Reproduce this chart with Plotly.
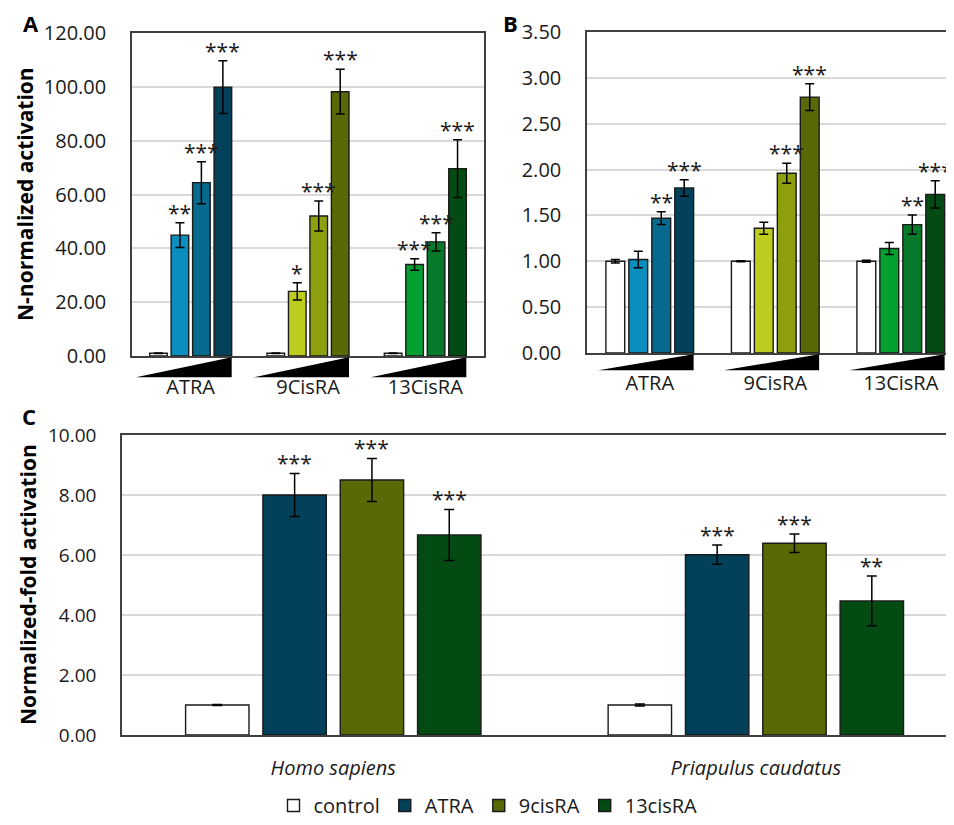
import plotly.graph_objects as go

# ---------------- data ----------------
groups_ab = ["ATRA", "9CisRA", "13CisRA"]

a_vals = [[1.0, 44.9, 64.4, 99.9],
          [1.0, 24.0, 52.0, 98.2],
          [1.0, 34.0, 42.4, 69.6]]
a_errs = [[0.1, 4.6, 7.8, 9.8],
          [0.1, 3.2, 5.6, 8.3],
          [0.1, 2.1, 3.4, 10.7]]
a_stars = [["", "**", "***", "***"],
           ["", "*", "***", "***"],
           ["", "***", "***", "***"]]

b_vals = [[1.0, 1.02, 1.47, 1.80],
          [1.0, 1.36, 1.96, 2.79],
          [1.0, 1.14, 1.40, 1.73]]
b_errs = [[0.02, 0.09, 0.07, 0.09],
          [0.005, 0.065, 0.11, 0.145],
          [0.01, 0.065, 0.105, 0.149]]
b_stars = [["", "", "**", "***"],
           ["", "", "***", "***"],
           ["", "", "**", "***"]]

species = ["Homo sapiens", "Priapulus caudatus"]
treatments = ["control", "ATRA", "9cisRA", "13cisRA"]
c_control = [1.0, 1.0]
c_atra = [8.0, 6.01]
c_9cis = [8.5, 6.39]
c_13cis = [6.67, 4.47]
c_control_err = [0.02, 0.03]
c_atra_err = [0.72, 0.32]
c_9cis_err = [0.72, 0.31]
c_13cis_err = [0.85, 0.83]
c_control_stars = ["", ""]
c_atra_stars = ["***", "***"]
c_9cis_stars = ["***", "***"]
c_13cis_stars = ["***", "**"]

# ---------------- style ----------------
dose_colors = [["#FFFFFF", "#0A8EBD", "#066A8E", "#03405A"],
               ["#FFFFFF", "#BDCC1E", "#8E9F0E", "#5A6905"],
               ["#FFFFFF", "#05A032", "#067A2A", "#034B12"]]
c_colors = ["#FFFFFF", "#03405A", "#5A6905", "#034B12"]

FONT = "Open Sans"
TXT = "#1a1a1a"
GRID = "#D9D9D9"
AXC = "#404040"
SLOT = 0.183
BARW = SLOT * 0.82

fig = go.Figure()


def offsets():
    return [(-1.5 + i) * SLOT for i in range(4)]


annotations = []
shapes = []
STAR_FONT = dict(family=FONT, size=21, color=TXT)


def add_dose_panel(vals, errs, stars, xa, ya, tri_left, tri_h):
    xs, ys, es, cols = [], [], [], []
    for g, (gv, ge) in enumerate(zip(vals, errs)):
        for i, off in enumerate(offsets()):
            xs.append(g + off)
            ys.append(gv[i])
            es.append(ge[i])
            cols.append(dose_colors[g][i])
            if stars[g][i]:
                annotations.append(dict(
                    x=g + off, y=gv[i] + ge[i], xref=xa, yref=ya,
                    text=stars[g][i], showarrow=False, xanchor="center", yanchor="bottom",
                    yshift=-6, font=STAR_FONT))
        right = offsets()[3] + BARW / 2
        shapes.append(dict(
            type="path", xref=xa, yref=ya + " domain",
            path=f"M {g - tri_left},{-tri_h - 0.004} L {g + right},{-tri_h - 0.004} "
                 f"L {g + right},{-0.004} Z",
            fillcolor="black", line=dict(width=0)))
    fig.add_trace(go.Bar(
        x=xs, y=ys, width=BARW, marker=dict(color=cols, line=dict(color="#1a1a1a", width=1.4)),
        error_y=dict(type="data", array=es, color="black", thickness=1.5, width=4.5),
        xaxis=xa, yaxis=ya, showlegend=False, hoverinfo="x+y"))


add_dose_panel(a_vals, a_errs, a_stars, "x", "y", 0.466, 0.062)
add_dose_panel(b_vals, b_errs, b_stars, "x2", "y2", 0.41, 0.05)

c_series = [(c_control, c_control_err, c_control_stars),
            (c_atra, c_atra_err, c_atra_stars),
            (c_9cis, c_9cis_err, c_9cis_stars),
            (c_13cis, c_13cis_err, c_13cis_stars)]
for i, (name, (vals, errs, st)) in enumerate(zip(treatments, c_series)):
    off = offsets()[i]
    xs = [g + off for g in range(len(species))]
    fig.add_trace(go.Bar(
        x=xs, y=vals, width=BARW, name=name,
        marker=dict(color=c_colors[i], line=dict(color="#1a1a1a", width=1.4)),
        error_y=dict(type="data", array=errs, color="black", thickness=1.5, width=5),
        xaxis="x3", yaxis="y3", showlegend=True))
    for x, v, e, s in zip(xs, vals, errs, st):
        if s:
            annotations.append(dict(
                x=x, y=v + e, xref="x3", yref="y3", text=s, showarrow=False,
                xanchor="center", yanchor="bottom", yshift=-6, font=STAR_FONT))

# page body has an 8px margin: figure spans page pixels 8..954 / 8..825
OFF = 8
W, H = 954 - OFF, 825 - OFF


def px_x(p):
    return (p - OFF) / W


def px_y(p):
    return 1 - (p - OFF) / H


tickfont = dict(family=FONT, size=20, color=TXT)
xcommon = dict(showgrid=False, zeroline=False, ticks="", showline=True, automargin=False,
               linecolor=AXC, linewidth=1.5, tickvals=[0, 1, 2])
ycommon = dict(showgrid=True, gridcolor=GRID, gridwidth=1.5, zeroline=False, automargin=False,
               showline=True, linecolor=AXC, linewidth=1.5, ticks="",
               tickformat=".2f", ticklabelstandoff=20, tickfont=tickfont)

fig.update_layout(
    template="none",
    width=W, height=H, margin=dict(l=0, r=0, t=0, b=0, autoexpand=False),
    paper_bgcolor="white", plot_bgcolor="white",
    barmode="overlay", font=dict(family=FONT, color=TXT),
    xaxis=dict(**xcommon, domain=[px_x(132), px_x(484)], range=[-0.5, 2.5],
               ticktext=groups_ab, tickfont=tickfont, ticklabelstandoff=12,
               mirror=True, anchor="y"),
    yaxis=dict(**ycommon, domain=[px_y(356), px_y(33)], range=[0, 120], dtick=20,
               mirror=True, anchor="x"),
    xaxis2=dict(**xcommon, domain=[px_x(587), 1.0], range=[-0.5, 2.424],
                ticktext=groups_ab, tickfont=tickfont, ticklabelstandoff=11,
                mirror=True, anchor="y2"),
    yaxis2=dict(**ycommon, domain=[px_y(353), px_y(32)], range=[0, 3.5], dtick=0.5,
                anchor="x2"),
    xaxis3=dict(showgrid=False, zeroline=False, ticks="", showline=True, automargin=False,
                linecolor=AXC, linewidth=1.5, tickvals=[0, 1],
                ticktext=[f"<i>{s}</i>" for s in species],
                tickfont=dict(family=FONT, size=20, color=TXT), ticklabelstandoff=14,
                domain=[px_x(122), 1.0], range=[-0.5, 1.469], mirror=True, anchor="y3"),
    yaxis3=dict(**{**ycommon, "tickfont": dict(family=FONT, size=19, color=TXT)},
                domain=[px_y(735), px_y(435)], range=[0, 10], dtick=2, anchor="x3"),
    legend=dict(orientation="h", x=px_x(488), xanchor="center", y=0, yanchor="bottom",
                font=dict(family=FONT, size=20, color=TXT), itemwidth=30,
                traceorder="normal", bgcolor="rgba(0,0,0,0)"),
)

# y-axis titles and panel letters
def paper_text(x, y, text, size, angle=0):
    return dict(x=px_x(x), y=px_y(y), xref="paper", yref="paper", text=text,
                textangle=angle, showarrow=False, xanchor="center", yanchor="middle",
                font=dict(family=FONT, size=size, color="black"))


annotations += [
    paper_text(25, 194, "<b>N-normalized activation</b>", 21, -90),
    paper_text(28, 585, "<b>Normalized-fold activation</b>", 21, -90),
    paper_text(31, 23, "<b>A</b>", 22),
    paper_text(510, 23, "<b>B</b>", 22),
    paper_text(29, 416, "<b>C</b>", 22),
]

fig.update_layout(annotations=annotations, shapes=shapes)
fig.write_html("out.html")
